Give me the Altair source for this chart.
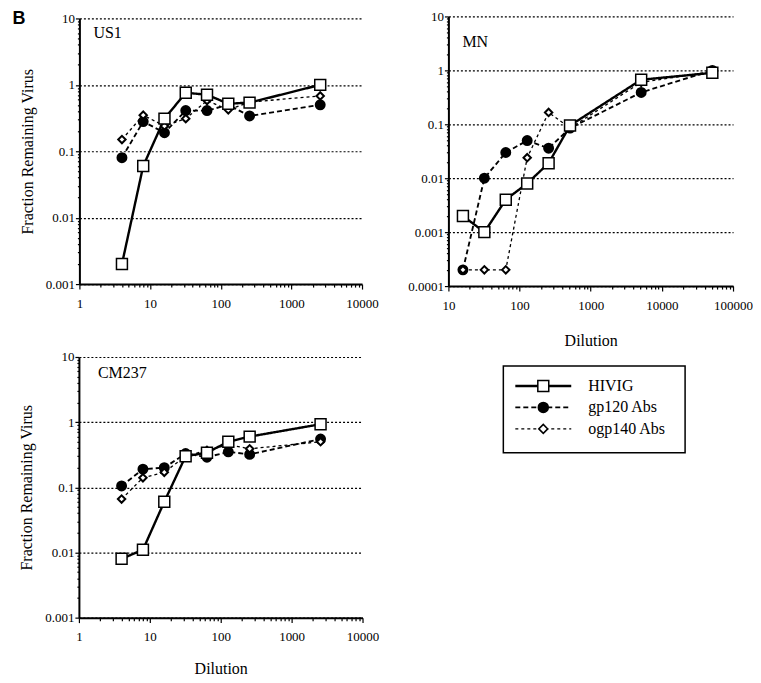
import altair as alt
import pandas as pd

SERIES = ["HIVIG", "gp120 Abs", "ogp140 Abs"]

# US1 panel
us1_dil = [4, 8, 16, 32, 64, 128, 256, 2560]
us1_hivig = [0.002, 0.06, 0.31, 0.76, 0.71, 0.52, 0.54, 1.0]
us1_gp120 = [0.08, 0.28, 0.19, 0.41, 0.41, 0.50, 0.34, 0.50]
us1_ogp140 = [0.15, 0.35, 0.24, 0.31, 0.58, 0.42, 0.55, 0.68]

# MN panel
mn_dil = [16, 32, 64, 128, 256, 512, 5120, 51200]
mn_hivig = [0.002, 0.001, 0.004, 0.008, 0.019, 0.095, 0.67, 0.9]
mn_gp120 = [0.0002, 0.01, 0.03, 0.05, 0.036, 0.085, 0.39, 1.0]
mn_ogp140 = [0.0002, 0.0002, 0.0002, 0.024, 0.166, 0.085, 0.6, 0.95]

# CM237 panel
cm_dil = [4, 8, 16, 32, 64, 128, 256, 2560]
cm_hivig = [0.008, 0.011, 0.06, 0.30, 0.34, 0.50, 0.60, 0.93]
cm_gp120 = [0.105, 0.19, 0.20, 0.33, 0.29, 0.35, 0.32, 0.55]
cm_ogp140 = [0.066, 0.14, 0.17, 0.30, 0.37, 0.45, 0.39, 0.50]

SERIF = "Liberation Serif"
DEC = "abs(log(datum.value)/LN10 - round(log(datum.value)/LN10)) < 0.000001"


def log_ticks(lo_exp, hi_exp):
    vals = []
    for e in range(lo_exp, hi_exp):
        for m in range(1, 10):
            vals.append(float(f"{m}e{e}"))
    vals.append(float(f"1e{hi_exp}"))
    return vals


DASH = alt.Scale(domain=SERIES, range=[[1, 0], [5, 3], [3, 3]])
WID = alt.Scale(domain=SERIES, range=[2.4, 1.3, 1.3])


def panel(dil, hiv, gp, ogp, xexp, yexp, label, ldx, ldy, w, h,
          ytitle, xtitle, xtpad, extra_b=False):
    rows = []
    for name, vals in zip(SERIES, [hiv, gp, ogp]):
        for d, v in zip(dil, vals):
            rows.append({"series": name, "dilution": d, "value": v})
    df = pd.DataFrame(rows)
    xaxis = alt.Axis(
        values=log_ticks(*xexp), format="~g",
        labelExpr=f"({DEC}) ? datum.label : ''",
        labelFlush=False, labelOverlap=False, grid=False,
        tickSize={"condition": {"test": DEC, "value": 5}, "value": 3},
        tickColor="black", tickWidth=1.2, domainColor="black", domainWidth=2,
        labelFont=SERIF, labelFontSize=13, labelColor="black", labelPadding=8,
        title=xtitle if xtitle else "", titleFont=SERIF, titleFontSize=16,
        titleFontWeight="normal", titleColor="black", titlePadding=xtpad,
    )
    yaxis = alt.Axis(
        values=log_ticks(*yexp), format="~g",
        labelExpr=f"({DEC}) ? datum.label : ''",
        labelFlush=False, labelOverlap=False, grid=True,
        gridColor="black", gridDash=[2, 2], gridWidth=1.2,
        gridOpacity={"condition": {"test": DEC, "value": 1}, "value": 0},
        tickSize={"condition": {"test": DEC, "value": 4}, "value": 2},
        tickColor="black", tickWidth=1.2, domainColor="black", domainWidth=2,
        labelFont=SERIF, labelFontSize=13, labelColor="black", labelPadding=1,
        title=ytitle if ytitle else "", titleFont=SERIF, titleFontSize=16,
        titleFontWeight="normal", titleColor="black", titlePadding=10,
    )
    x = alt.X("dilution:Q", scale=alt.Scale(type="log", domain=[10 ** xexp[0], 10 ** xexp[1]], nice=False), axis=xaxis)
    y = alt.Y("value:Q", scale=alt.Scale(type="log", domain=[10.0 ** yexp[0], 10.0 ** yexp[1]], nice=False), axis=yaxis)
    base = alt.Chart(df)
    lines = base.mark_line(color="black").encode(
        x=x, y=y, detail="series:N",
        strokeDash=alt.StrokeDash("series:N", scale=DASH, legend=None),
        strokeWidth=alt.StrokeWidth("series:N", scale=WID, legend=None),
    )
    circ = base.transform_filter(alt.datum.series == "gp120 Abs").mark_point(
        shape="circle", filled=True, fill="black", stroke="black", size=80, opacity=1
    ).encode(x=x, y=y)
    diam = base.transform_filter(alt.datum.series == "ogp140 Abs").mark_point(
        shape="diamond", filled=True, fill="white", stroke="black", strokeWidth=2, size=55, opacity=1
    ).encode(x=x, y=y)
    sq = base.transform_filter(alt.datum.series == "HIVIG").mark_point(
        shape="square", filled=True, fill="white", stroke="black", strokeWidth=1.5, size=120, opacity=1
    ).encode(x=x, y=y)
    lab = alt.Chart(pd.DataFrame({"label": [label]})).mark_text(
        align="left", baseline="middle", font=SERIF, fontSize=16, color="black"
    ).encode(x=alt.value(ldx), y=alt.value(ldy), text="label:N")
    layers = [lines, circ, diam, sq, lab]
    if extra_b:
        b = alt.Chart(pd.DataFrame({"label": ["B"]})).mark_text(
            align="left", baseline="top", font="Liberation Sans", fontWeight="bold", fontSize=18, color="black"
        ).encode(x=alt.value(-67), y=alt.value(-8), text="label:N")
        layers.append(b)
    return alt.layer(*layers).properties(width=w, height=h)


us1 = panel(us1_dil, us1_hivig, us1_gp120, us1_ogp140, (0, 4), (-3, 1), "US1", 14, 15, 283, 266,
            "Fraction Remaining Virus", None, 20, extra_b=True)
mn = panel(mn_dil, mn_hivig, mn_gp120, mn_ogp140, (1, 5), (-4, 1), "MN", 14, 26, 285, 270,
           None, "Dilution", 21)
cm = panel(cm_dil, cm_hivig, cm_gp120, cm_ogp140, (0, 4), (-3, 1), "CM237", 19, 16, 284, 261,
           "Fraction Remaining Virus", "Dilution", 17)

# legend panel (same cell size as CM237 so the grid stays aligned)
leg_df = pd.DataFrame({"series": SERIES})
ly = alt.Y("series:N", scale=alt.Scale(type="point", domain=SERIES, range=[29, 72], padding=0), axis=None)
lbase = alt.Chart(leg_df)
box = alt.Chart(alt.Data(values=[{}])).mark_rect(
    fill="white", stroke="black", strokeWidth=1.5
).encode(x=alt.value(55), x2=alt.value(237), y=alt.value(9), y2=alt.value(96))
lrule = lbase.mark_rule(color="black").encode(
    x=alt.value(67), x2=alt.value(123), y=ly,
    strokeDash=alt.StrokeDash("series:N", scale=DASH, legend=None),
    strokeWidth=alt.StrokeWidth("series:N", scale=WID, legend=None),
)
lpts = lbase.mark_point(filled=True, stroke="black", opacity=1, strokeWidth=1.5).encode(
    x=alt.value(95), y=ly,
    shape=alt.Shape("series:N", scale=alt.Scale(domain=SERIES, range=["square", "circle", "diamond"]), legend=None),
    fill=alt.Fill("series:N", scale=alt.Scale(domain=SERIES, range=["white", "black", "white"]), legend=None),
    size=alt.Size("series:N", scale=alt.Scale(domain=SERIES, range=[120, 80, 55]), legend=None),
)
ltext = lbase.mark_text(align="left", baseline="middle", font=SERIF, fontSize=16, color="black").encode(
    x=alt.value(140), y=ly, text="series:N"
)
legend = alt.layer(box, lrule, lpts, ltext).properties(width=285, height=261)

chart = alt.concat(us1, mn, cm, legend, columns=2, spacing={"row": 71, "column": 86},
                   bounds="flush", center=True).properties(
    padding={"left": 4, "top": 1, "right": 0, "bottom": 0}
).configure_view(stroke="transparent").resolve_scale(
    strokeDash="independent", strokeWidth="independent", shape="independent", fill="independent", size="independent"
)

chart.save("out.html", embed_options={"renderer": "svg", "actions": False})
